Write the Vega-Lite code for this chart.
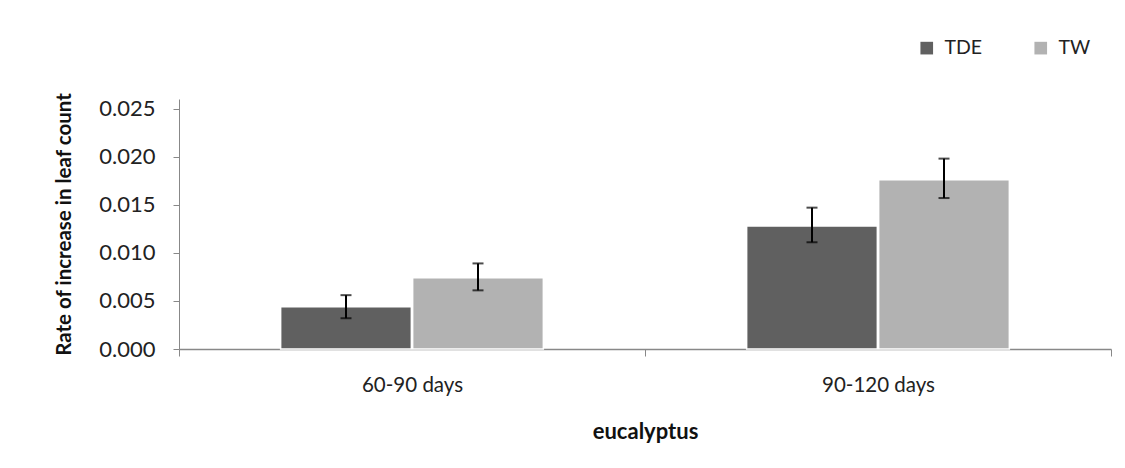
{
  "$schema": "https://vega.github.io/schema/vega-lite/v6.json",
  "width": 932,
  "height": 250,
  "autosize": {"type": "none"},
  "padding": {"left": 179, "top": 99, "right": 14, "bottom": 119},
  "background": "white",
  "config": {"font": "Lato", "view": {"stroke": null}},
  "data": {
    "values": [
      {"period": "60-90 days", "treatment": "TDE", "value": 0.0044, "lo": 0.0032, "hi": 0.0056},
      {"period": "60-90 days", "treatment": "TW", "value": 0.0074, "lo": 0.0061, "hi": 0.0089},
      {"period": "90-120 days", "treatment": "TDE", "value": 0.0128, "lo": 0.0111, "hi": 0.0147},
      {"period": "90-120 days", "treatment": "TW", "value": 0.0176, "lo": 0.0157, "hi": 0.0198}
    ]
  },
  "encoding": {
    "x": {
      "field": "period",
      "type": "nominal",
      "sort": ["60-90 days", "90-120 days"],
      "scale": {"paddingInner": 0, "paddingOuter": 0},
      "axis": {
        "title": "eucalyptus",
        "titleFontWeight": "bold",
        "titleFontSize": 22,
        "titleColor": "#111",
        "titleY": 82,
        "titleBaseline": "middle",
        "labelAngle": 0,
        "labelFontSize": 20.5,
        "labelColor": "#222",
        "labelPadding": 19,
        "tickBand": "extent",
        "tickSize": 7,
        "tickColor": "#888",
        "domainColor": "#888",
        "domainWidth": 1.5
      }
    },
    "xOffset": {
      "field": "treatment",
      "type": "nominal",
      "sort": ["TDE", "TW"],
      "scale": {"paddingInner": 0.01, "paddingOuter": 0.77}
    }
  },
  "layer": [
    {
      "mark": {"type": "bar", "stroke": "white", "strokeWidth": 1.5},
      "encoding": {
        "y": {
          "field": "value",
          "type": "quantitative",
          "title": "Rate of increase in leaf count",
          "scale": {"domain": [0, 0.025]},
          "axis": {
            "values": [0, 0.005, 0.01, 0.015, 0.02, 0.025],
            "format": ".3f",
            "grid": false,
            "tickSize": 6,
            "tickColor": "#888",
            "domainColor": "#888",
            "labelFontSize": 22,
            "labelColor": "#222",
            "labelPadding": 18,
            "titleFontSize": 20.5,
            "titleFontWeight": "bold",
            "titleColor": "#111",
            "titleX": -115,
            "titleY": 125,
            "titleAlign": "center",
            "titleBaseline": "middle"
          }
        },
        "color": {
          "field": "treatment",
          "type": "nominal",
          "sort": ["TDE", "TW"],
          "scale": {"domain": ["TDE", "TW"], "range": ["#606060", "#b2b2b2"]},
          "legend": {
            "title": null,
            "orient": "none",
            "legendX": 738,
            "legendY": -61,
            "direction": "horizontal",
            "symbolType": "square",
            "symbolSize": 160,
            "symbolStrokeWidth": 0,
            "labelFontSize": 19.5,
            "labelColor": "#222",
            "labelOffset": 8,
            "columnPadding": 48
          }
        }
      }
    },
    {
      "mark": {"type": "rule", "color": "black", "strokeWidth": 2},
      "encoding": {
        "y": {"field": "lo", "type": "quantitative", "title": "Rate of increase in leaf count"},
        "y2": {"field": "hi"}
      }
    },
    {
      "mark": {"type": "tick", "color": "black", "thickness": 2, "size": 11},
      "encoding": {
        "y": {"field": "lo", "type": "quantitative", "title": "Rate of increase in leaf count"}
      }
    },
    {
      "mark": {"type": "tick", "color": "black", "thickness": 2, "size": 11},
      "encoding": {
        "y": {"field": "hi", "type": "quantitative", "title": "Rate of increase in leaf count"}
      }
    }
  ]
}
